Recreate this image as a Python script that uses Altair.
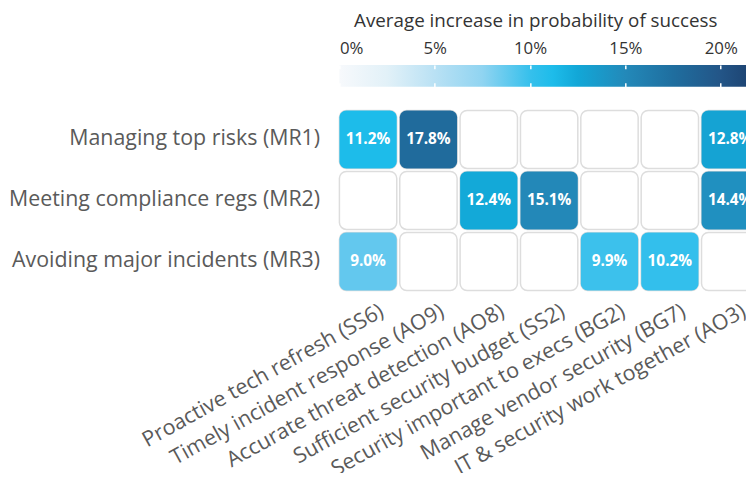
import altair as alt
import pandas as pd

columns = [
    "Proactive tech refresh (SS6)",
    "Timely incident response (AO9)",
    "Accurate threat detection (AO8)",
    "Sufficient security budget (SS2)",
    "Security important to execs (BG2)",
    "Manage vendor security (BG7)",
    "IT & security work together (AO3)",
]
rows = [
    "Managing top risks (MR1)",
    "Meeting compliance regs (MR2)",
    "Avoiding major incidents (MR3)",
]
mr1 = [0.112, 0.178, None, None, None, None, 0.128]
mr2 = [None, None, 0.124, 0.151, None, None, 0.144]
mr3 = [0.090, None, None, None, 0.099, 0.102, None]

legend_domain = [0.0, 0.22]
legend_ticks = [0.0, 0.05, 0.10, 0.15, 0.20]
color_stops = [0.0, 0.025, 0.05, 0.075, 0.10, 0.112, 0.125, 0.15, 0.175, 0.20, 0.22]
color_range = ["#f7f9fc", "#e2f1f8", "#b9e1f4", "#90d4f1", "#36c0ec", "#1dbcea",
               "#12a7d7", "#2389b9", "#1f6e9f", "#235587", "#1b3e6b"]

FONT = "Open Sans"
W = 424   # the grid runs past the right edge of the page, as in the reference

records = []
for r, vals in zip(rows, [mr1, mr2, mr3]):
    for c, v in zip(columns, vals):
        records.append({"row": r, "col": c, "val": v})
df = pd.DataFrame(records)

color_scale = alt.Scale(domain=color_stops, range=color_range, clamp=True)

xs = alt.X("col:N", sort=columns,
           scale=alt.Scale(paddingInner=0.05, paddingOuter=0.0),
           axis=alt.Axis(title=None, orient="bottom", labelAngle=-29, labelAlign="right",
                         labelBaseline="top", labelPadding=10, labelOffset=9, labelFontSize=21.6,
                         labelColor="#5a5a5a", labelFont=FONT, labelLimit=500,
                         domain=False, ticks=False))
ys = alt.Y("row:N", sort=rows,
           scale=alt.Scale(paddingInner=0.05, paddingOuter=0.0),
           axis=alt.Axis(title=None, labelFontSize=21.6, labelColor="#5a5a5a", labelFont=FONT,
                         labelPadding=20, labelLimit=500, domain=False, ticks=False))

base = alt.Chart(df).encode(x=xs, y=ys)
bg = base.mark_rect(fill="white", stroke="#dddddd", strokeWidth=1.5, cornerRadius=7)
filled = base.transform_filter("isValid(datum.val)").mark_rect(cornerRadius=7).encode(
    color=alt.Color("val:Q", scale=color_scale, legend=None))
txt = base.transform_filter("isValid(datum.val)").mark_text(
    color="white", fontWeight="bold", fontSize=15.5, font=FONT).encode(
    text=alt.Text("val:Q", format=".1%"))
heat = alt.layer(bg, filled, txt).properties(width=W, height=182)

leg_df = pd.DataFrame({"lo": [legend_domain[0]], "hi": [legend_domain[1]]})
grad = alt.Gradient(
    gradient="linear",
    stops=[alt.GradientStop(color=c, offset=v / legend_domain[1]) for v, c in zip(color_stops, color_range)],
    x1=0, x2=1, y1=0, y2=0)
legend = alt.Chart(leg_df).mark_rect(color=grad).encode(
    x=alt.X("lo:Q", scale=alt.Scale(domain=legend_domain, nice=False, zero=False),
            axis=alt.Axis(orient="top", values=legend_ticks, format=".0%",
                          title="Average increase in probability of success",
                          titleFontSize=19, titleFontWeight="normal", titleColor="#333333",
                          titleFont=FONT, titlePadding=9, titleX=198, titleAlign="center",
                          labelFontSize=17, labelColor="#333333", labelFont=FONT, labelPadding=8,
                          domain=False, ticks=False, grid=True, gridColor="white",
                          gridDash=[4, 14], gridWidth=1.5, zindex=1)),
    x2="hi:Q",
    y=alt.value(0), y2=alt.value(22),
).properties(width=W, height=22)

chart = alt.vconcat(legend, heat, spacing=23).properties(
    padding={"left": 0, "top": 1, "right": -14, "bottom": -10}
).configure_view(stroke=None)

chart.save("out.html", embed_options={"renderer": "svg", "actions": False})
